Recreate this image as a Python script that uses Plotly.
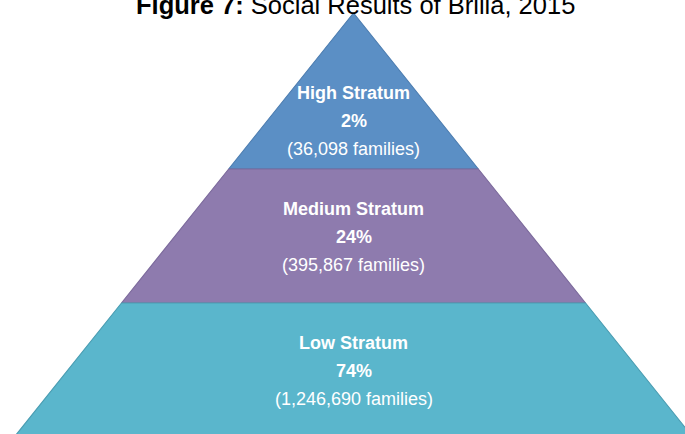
import plotly.graph_objects as go

# ---- data ----
strata = ["High Stratum", "Medium Stratum", "Low Stratum"]
shares_pct = [2, 24, 74]
families = [36098, 395867, 1246690]
title_bold = "Figure 7:"
title_rest = "Social Results of Brilla, 2015"

# ---- style / geometry (pixels, y downward) ----
W, H = 685, 434
fill_colors = ["#5B8FC5", "#8E7BAE", "#5AB6CC"]
edge_colors = ["#4C7DB0", "#7C6A9C", "#4A9DB2"]
apex_x, apex_y = 353.5, 13
slope = 0.80          # half-width per px down
tier_edges = [13, 169, 303, 445]
label_baselines = [99, 215, 349]
line_gap = 28
FONT = "Liberation Sans, Arial, Helvetica, sans-serif"

fig = go.Figure()

def half_width(y):
    return slope * (y - apex_y)

for i, name in enumerate(strata):
    y0, y1 = tier_edges[i], tier_edges[i + 1]
    w0, w1 = half_width(y0), half_width(y1)
    xs = [apex_x - w0, apex_x + w0, apex_x + w1, apex_x - w1, apex_x - w0]
    ys = [y0, y0, y1, y1, y0]
    fig.add_trace(go.Scatter(
        x=xs, y=ys, mode="lines", fill="toself",
        fillcolor=fill_colors[i],
        line=dict(color=edge_colors[i], width=1.2),
        hoverinfo="skip", showlegend=False,
    ))

annotations = []
for i, name in enumerate(strata):
    b = label_baselines[i]
    lines = [
        (f"<b>{name}</b>", b),
        (f"<b>{shares_pct[i]}%</b>", b + line_gap),
        (f"({families[i]:,} families)", b + 2 * line_gap),
    ]
    for txt, base in lines:
        annotations.append(dict(
            x=apex_x, y=base - 6.5, xref="x", yref="y",
            text=txt, showarrow=False, xanchor="center", yanchor="middle",
            font=dict(family=FONT, size=18, color="#FFFFFF"),
        ))

annotations.append(dict(
    x=355.5, y=5, xref="x", yref="y",
    text=f"<b>{title_bold}</b> {title_rest}", showarrow=False,
    xanchor="center", yanchor="middle",
    font=dict(family=FONT, size=25.5, color="#000000"),
))

fig.update_layout(
    width=W, height=H,
    margin=dict(l=0, r=0, t=0, b=0),
    paper_bgcolor="white", plot_bgcolor="white",
    xaxis=dict(range=[0, W], visible=False, fixedrange=True),
    yaxis=dict(range=[H, 0], visible=False, fixedrange=True),
    annotations=annotations,
    showlegend=False,
)

fig.write_html("out.html", config={"displayModeBar": False})
